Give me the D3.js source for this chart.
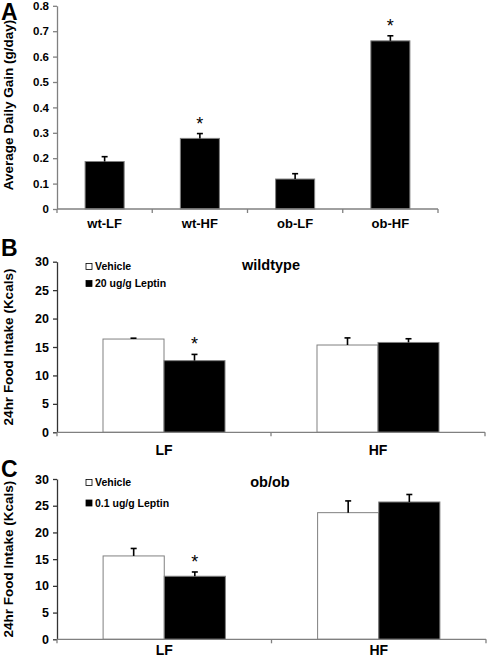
<!DOCTYPE html>
<html><head><meta charset="utf-8">
<script src="https://cdn.jsdelivr.net/npm/d3@7"></script>
<style>
html,body{margin:0;padding:0;background:#fff;}
svg{display:block;font-family:"Liberation Sans",Arial,sans-serif;font-weight:bold;}
</style></head>
<body>
<svg id="chart" width="488" height="664"></svg>
<script>
// Panel A data
const catsA = ["wt-LF", "wt-HF", "ob-LF", "ob-HF"];
const valsA = [0.187, 0.278, 0.118, 0.662];
const errA = [0.019, 0.019, 0.021, 0.020];
const sigA = [false, true, false, true];
const ticksA = [0, 0.1, 0.2, 0.3, 0.4, 0.5, 0.6, 0.7, 0.8];

// Panel B data (wildtype)
const groupsBC = ["LF", "HF"];
const seriesB = ["Vehicle", "20 ug/g Leptin"];
const vehicleB = [16.4, 15.35];
const vehicleErrB = [0.15, 1.25];
const leptinB = [12.6, 15.8];
const leptinErrB = [1.1, 0.65];
const leptinSigB = [true, false];

// Panel C data (ob/ob)
const seriesC = ["Vehicle", "0.1 ug/g Leptin"];
const vehicleC = [15.6, 23.7];
const vehicleErrC = [1.4, 2.2];
const leptinC = [11.8, 25.7];
const leptinErrC = [0.8, 1.4];
const leptinSigC = [true, false];
const ticksBC = [0, 5, 10, 15, 20, 25, 30];

const svg = d3.select("#chart");
const AXIS = "#808080";

function yAxis(g, y, ticks, fmt, fs, color) {
  const ax = g.append("g").attr("transform", "translate(57,0)")
    .call(d3.axisLeft(y).tickValues(ticks).tickFormat(fmt).tickSize(4).tickSizeOuter(0));
  ax.select(".domain").attr("stroke", color).attr("stroke-width", 1.3);
  ax.selectAll(".tick line").attr("stroke", color).attr("stroke-width", 1.3);
  ax.selectAll("text").attr("font-size", fs).attr("font-weight", "bold")
    .attr("font-family", '"Liberation Sans",Arial,sans-serif').attr("fill", "#000").attr("dx", "-1");
}

function xAxis(g, x, y0, labelY, fs) {
  const [r0, r1] = x.range();
  g.append("line").attr("x1", r0).attr("x2", r1).attr("y1", y0).attr("y2", y0)
    .attr("stroke", AXIS).attr("stroke-width", 1.3);
  const bounds = x.domain().map(d => x(d)).concat([r1]);
  g.selectAll(".xt").data(bounds).join("line")
    .attr("x1", d => d).attr("x2", d => d).attr("y1", y0).attr("y2", y0 + 4)
    .attr("stroke", AXIS).attr("stroke-width", 1.3);
  g.selectAll(".xl").data(x.domain()).join("text")
    .attr("x", d => x(d) + x.bandwidth() / 2).attr("y", labelY)
    .attr("text-anchor", "middle").attr("font-size", fs).text(d => d);
}

function errBar(g, cx, yTop, yErr) {
  g.append("line").attr("x1", cx).attr("x2", cx).attr("y1", yTop).attr("y2", yErr)
    .attr("stroke", "#000").attr("stroke-width", 1.6);
  g.append("line").attr("x1", cx - 3).attr("x2", cx + 3).attr("y1", yErr).attr("y2", yErr)
    .attr("stroke", "#000").attr("stroke-width", 1.6);
}

function star(g, cx, yErr) {
  g.append("text").attr("x", cx).attr("y", yErr - 4).attr("text-anchor", "middle")
    .attr("font-size", 18).attr("font-weight", "normal").text("*");
}

// ---------- Panel A ----------
{
  const g = svg.append("g");
  const x = d3.scaleBand().domain(catsA).range([57, 438]).padding(0);
  const y = d3.scaleLinear().domain([0, 0.8]).range([209, 5.8]);
  yAxis(g, y, ticksA, d => d === 0 ? "0" : d3.format(".1f")(d), 11.5, AXIS);
  const bw = x.bandwidth() * 0.41;
  catsA.forEach((c, i) => {
    const cx = x(c) + x.bandwidth() / 2;
    g.append("rect").attr("x", cx - bw / 2).attr("y", y(valsA[i]))
      .attr("width", bw).attr("height", y(0) - y(valsA[i]))
      .attr("fill", "#000").attr("stroke", AXIS).attr("stroke-width", 1);
    errBar(g, cx, y(valsA[i]), y(valsA[i] + errA[i]));
    if (sigA[i]) star(g, cx, y(valsA[i] + errA[i]));
  });
  xAxis(g, x, 209, 228, 13);
  g.append("text").attr("transform", "translate(13,105) rotate(-90)")
    .attr("text-anchor", "middle").attr("font-size", 13.5).text("Average Daily Gain (g/day)");
  g.append("text").attr("x", 1).attr("y", 20).attr("font-size", 23).text("A");
}

function groupedPanel(opts) {
  const g = svg.append("g");
  const x0 = d3.scaleBand().domain(groupsBC).range([57, opts.xEnd]).padding(0);
  const x1 = d3.scaleBand().domain(opts.series).range([0, x0.bandwidth()]).paddingInner(0).paddingOuter(0.754);
  const y = d3.scaleLinear().domain([0, 30]).range([opts.y0, opts.y30]);
  yAxis(g, y, ticksBC, d3.format("d"), 12.5, "#333");
  groupsBC.forEach((grp, i) => {
    const rows = [
      {s: opts.series[0], v: opts.veh[i], e: opts.vehErr[i], fill: "#fff", sig: false},
      {s: opts.series[1], v: opts.lep[i], e: opts.lepErr[i], fill: "#000", sig: opts.lepSig[i]}
    ];
    rows.forEach(r => {
      const bx = x0(grp) + x1(r.s);
      g.append("rect").attr("x", bx).attr("y", y(r.v)).attr("width", x1.bandwidth())
        .attr("height", y(0) - y(r.v)).attr("fill", r.fill).attr("stroke", AXIS).attr("stroke-width", 1);
      const cx = bx + x1.bandwidth() / 2;
      errBar(g, cx, y(r.v), y(r.v + r.e));
      if (r.sig) star(g, cx, y(r.v + r.e));
    });
  });
  xAxis(g, x0, opts.y0, opts.labelY, 14);
  // legend
  opts.series.forEach((s, i) => {
    const ly = opts.legY + i * opts.legGap;
    g.append("rect").attr("x", 86).attr("y", ly - 6.5).attr("width", 6).attr("height", 6)
      .attr("fill", i === 0 ? "#fff" : "#000").attr("stroke", "#000").attr("stroke-width", 0.8);
    g.append("text").attr("x", 95).attr("y", ly).attr("font-size", 10.5).text(s);
  });
  g.append("text").attr("x", opts.titleX).attr("y", opts.titleY).attr("text-anchor", "middle")
    .attr("font-size", 14.5).text(opts.title);
  g.append("text").attr("transform", `translate(13,${(opts.y0 + opts.y30) / 2}) rotate(-90)`)
    .attr("text-anchor", "middle").attr("font-size", 13.5).text("24hr Food Intake (Kcals)");
  g.append("text").attr("x", 1).attr("y", opts.letterY).attr("font-size", 23).text(opts.letter);
}

// ---------- Panel B ----------
groupedPanel({
  series: seriesB, veh: vehicleB, vehErr: vehicleErrB, lep: leptinB, lepErr: leptinErrB, lepSig: leptinSigB,
  xEnd: 485, y0: 432.3, y30: 261.7, labelY: 455, legY: 270, legGap: 17,
  title: "wildtype", titleX: 271, titleY: 270, letter: "B", letterY: 256
});

// ---------- Panel C ----------
groupedPanel({
  series: seriesC, veh: vehicleC, vehErr: vehicleErrC, lep: leptinC, lepErr: leptinErrC, lepSig: leptinSigC,
  xEnd: 486, y0: 639.3, y30: 479, labelY: 655, legY: 486, legGap: 20.5,
  title: "ob/ob", titleX: 270, titleY: 487, letter: "C", letterY: 477
});
</script>
</body></html>
